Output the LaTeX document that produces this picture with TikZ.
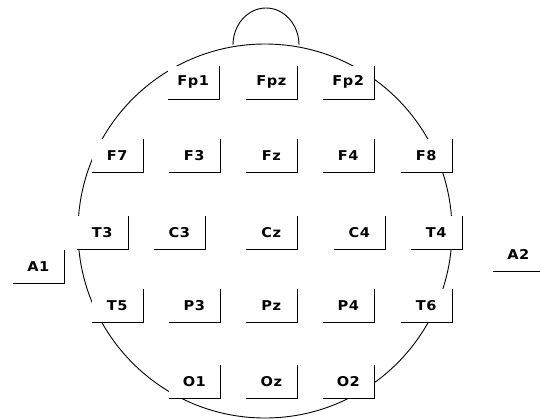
\documentclass[tikz,border=0pt]{standalone}
\usepackage{fontspec}
\newfontfamily\elfont[FakeStretch=1.08,LetterSpace=4]{DejaVu Sans Bold}
\usetikzlibrary{positioning}

\begin{document}
\begin{tikzpicture}[x=1pt, y=-1pt,
  electrode/.style={rectangle, fill=white, minimum width=51pt, minimum height=33pt,
    inner sep=0pt, anchor=south east, font=\elfont\fontsize{13.5}{15}\selectfont},
  lead/.style={line width=0.9pt}]
\useasboundingbox (0,0) rectangle (540,418);

% head outline
\draw[lead] (265,231) circle[radius=187pt];

% electrodes (name/label/right edge/bottom edge)
\foreach \n/\lbl/\x/\y in {fp1/Fp1/219/99, fpz/Fpz/297/99, fp2/Fp2/374/99,
    f7/F7/143/172, f3/F3/220/172, fz/Fz/297/172, f4/F4/374/172, f8/F8/452/172,
    t3/T3/128/249, c3/C3/205/249, cz/Cz/297/249, c4/C4/385/249, t4/T4/462/249,
    a1/A1/64/283, a2/A2/544/271,
    t5/T5/143/322, p3/P3/220/322, pz/Pz/297/322, p4/P4/374/322, t6/T6/452/322,
    o1/O1/220/398, oz/Oz/297/398, o2/O2/374/398}{
  \node[electrode] (\n) at (\x,\y) {\lbl};
  \draw[lead] (\n.north east) -- (\n.south east) -- (\n.south west);
}

% nose
\draw[lead] (233,45) arc[start angle=180, end angle=0, x radius=33pt, y radius=37pt];
\end{tikzpicture}
\end{document}
